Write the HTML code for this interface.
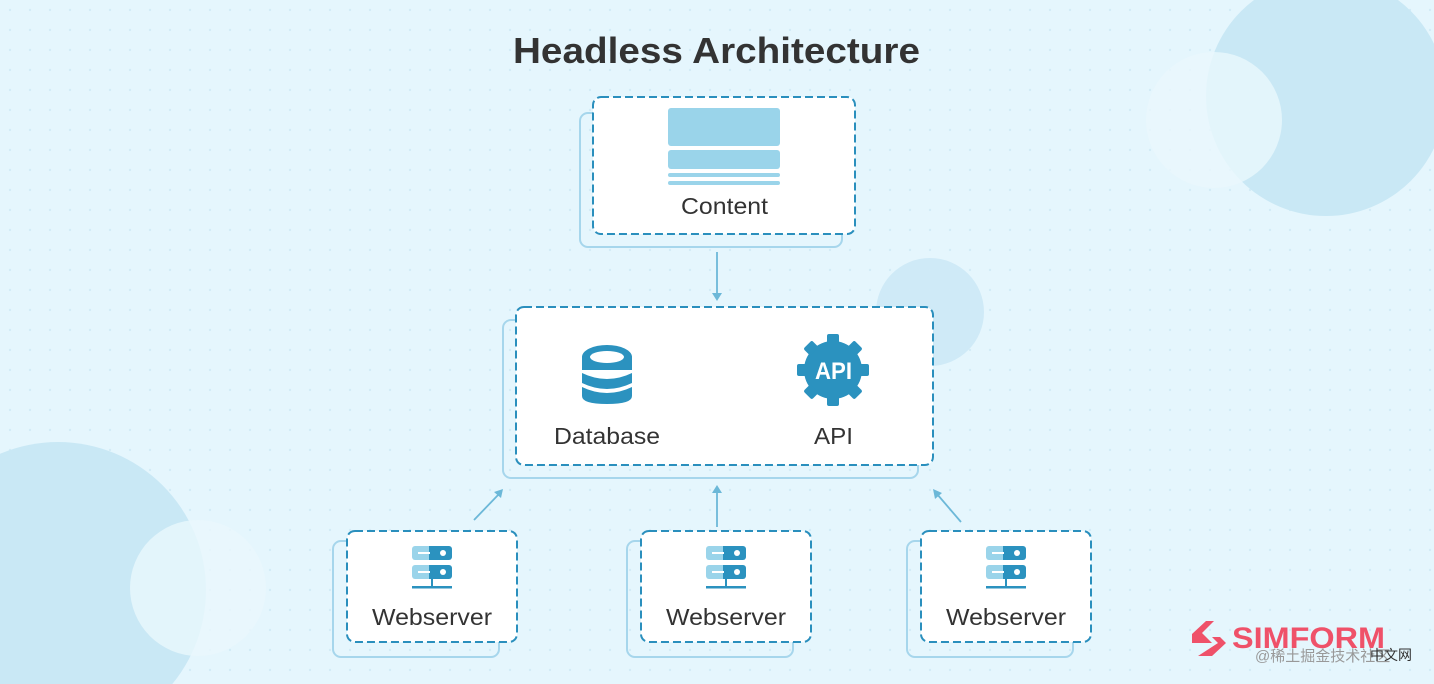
<!DOCTYPE html>
<html><head><style>html,body{margin:0;width:1434px;height:684px;overflow:hidden;background:#e5f6fd}svg{display:block}</style></head><body>
<svg width="1434" height="684" viewBox="0 0 1434 684" xmlns="http://www.w3.org/2000/svg" font-family="Liberation Sans, sans-serif">
<defs>
<pattern id="d" width="20" height="20" patternUnits="userSpaceOnUse"><circle cx="10" cy="10" r="1.2" fill="#d3ecf7"/></pattern>
</defs>
<rect width="1434" height="684" fill="#e5f6fd"/>
<rect width="1434" height="684" fill="url(#d)"/>
<circle cx="1326" cy="96" r="120" fill="#c9e8f5"/>
<circle cx="1214" cy="120" r="68" fill="#eaf8fd" opacity="0.8"/>
<circle cx="930" cy="312" r="54" fill="#cfeaf7"/>
<circle cx="58" cy="590" r="148" fill="#c9e8f5"/>
<circle cx="198" cy="588" r="68" fill="#eaf8fd" opacity="0.8"/>
<text x="513" y="63" font-size="36" font-weight="bold" fill="#333" textLength="407" lengthAdjust="spacingAndGlyphs">Headless Architecture</text>
<g fill="none" stroke="#a6d6ec" stroke-width="2">
<path d="M593 113 H588 a8 8 0 0 0 -8 8 V239 a8 8 0 0 0 8 8 H834 a8 8 0 0 0 8 -8 V234"/>
<path d="M516 320 H511 a8 8 0 0 0 -8 8 V470 a8 8 0 0 0 8 8 H910 a8 8 0 0 0 8 -8 V465"/>
<path d="M347 541 H341 a8 8 0 0 0 -8 8 V649 a8 8 0 0 0 8 8 H491 a8 8 0 0 0 8 -8 V642"/>
<path d="M641 541 H635 a8 8 0 0 0 -8 8 V649 a8 8 0 0 0 8 8 H785 a8 8 0 0 0 8 -8 V642"/>
<path d="M921 541 H915 a8 8 0 0 0 -8 8 V649 a8 8 0 0 0 8 8 H1065 a8 8 0 0 0 8 -8 V642"/>
</g>
<g fill="#fff" stroke="#2a8fbd" stroke-width="2" stroke-dasharray="8 4">
<rect x="593" y="97" width="262" height="137" rx="8"/>
<rect x="516" y="307" width="417" height="158" rx="8"/>
<rect x="347" y="531" width="170" height="111" rx="8"/>
<rect x="641" y="531" width="170" height="111" rx="8"/>
<rect x="921" y="531" width="170" height="111" rx="8"/>
</g>
<g fill="#9ad4ea">
<rect x="668" y="108" width="112" height="38" rx="3"/>
<rect x="668" y="150" width="112" height="19" rx="3"/>
<rect x="668" y="173" width="112" height="4" rx="2"/>
<rect x="668" y="181" width="112" height="4" rx="2"/>
</g>
<g font-size="23" fill="#333">
<text x="681" y="214" textLength="87" lengthAdjust="spacingAndGlyphs">Content</text>
<text x="554" y="444" textLength="106" lengthAdjust="spacingAndGlyphs">Database</text>
<text x="814" y="444" textLength="39" lengthAdjust="spacingAndGlyphs">API</text>
<text x="372" y="625" textLength="120" lengthAdjust="spacingAndGlyphs">Webserver</text>
<text x="666" y="625" textLength="120" lengthAdjust="spacingAndGlyphs">Webserver</text>
<text x="946" y="625" textLength="120" lengthAdjust="spacingAndGlyphs">Webserver</text>
</g>
<g stroke="#6cb8d8" stroke-width="1.8" fill="#6cb8d8">
<line x1="717" y1="252" x2="717" y2="296"/><path d="M712 293 L717 301 L722 293Z" stroke="none"/>
<line x1="474" y1="520" x2="499" y2="494"/><path d="M494 492 L503 489 L501 498Z" stroke="none"/>
<line x1="717" y1="527" x2="717" y2="490"/><path d="M712 493 L717 485 L722 493Z" stroke="none"/>
<line x1="961" y1="522" x2="937" y2="494"/><path d="M935 499 L933 489 L942 493Z" stroke="none"/>
</g>
<g fill="#2b92bf">
<ellipse cx="607" cy="357" rx="25" ry="12"/>
<rect x="582" y="357" width="50" height="13"/>
<path d="M582 373 q25 12 50 0 v10 q-25 12 -50 0z"/>
<path d="M582 387 q25 12 50 0 v9 q0 8 -25 8 q-25 0 -25 -8z"/>
</g>
<ellipse cx="607" cy="357" rx="17" ry="6" fill="#fff"/>
<g fill="#2b92bf" transform="translate(833,370)">
<circle r="29"/>
<g id="t"><rect x="-6" y="-36" width="12" height="10" rx="2"/></g>
<use href="#t" transform="rotate(45)"/><use href="#t" transform="rotate(90)"/><use href="#t" transform="rotate(135)"/><use href="#t" transform="rotate(180)"/><use href="#t" transform="rotate(225)"/><use href="#t" transform="rotate(270)"/><use href="#t" transform="rotate(315)"/>
</g>
<text x="815" y="379" font-size="24" font-weight="bold" fill="#fff" textLength="37" lengthAdjust="spacingAndGlyphs">API</text>
<g id="s">
<rect x="412" y="546" width="20" height="14" rx="3" fill="#9ad4ea"/><rect x="432" y="546" width="20" height="14" rx="3" fill="#2b92bf"/><rect x="429" y="546" width="6" height="14" fill="#2b92bf"/>
<rect x="412" y="565" width="20" height="14" rx="3" fill="#9ad4ea"/><rect x="432" y="565" width="20" height="14" rx="3" fill="#2b92bf"/><rect x="429" y="565" width="6" height="14" fill="#2b92bf"/>
<rect x="418" y="552" width="12" height="2" fill="#fff"/><circle cx="443" cy="553" r="3" fill="#fff"/>
<rect x="418" y="571" width="12" height="2" fill="#fff"/><circle cx="443" cy="572" r="3" fill="#fff"/>
<rect x="431" y="579" width="2" height="7" fill="#2b92bf"/><rect x="412" y="586" width="40" height="2.5" fill="#2b92bf"/>
</g>
<use href="#s" transform="translate(294,0)"/><use href="#s" transform="translate(574,0)"/>
<path d="M1192 634 l14 -13 h8 l-12 12 l10 10 l-20 0z M1212 656 l14 -13 l-6 -6 h-8 l6 6 l-20 13z" fill="#ef5169"/>
<text x="1232" y="648" font-size="30" font-weight="bold" fill="#ef5169" textLength="153" lengthAdjust="spacingAndGlyphs">SIMFORM</text>
<text x="1255" y="661" font-size="15" fill="#999" font-family="Liberation Sans, Noto Sans CJK SC, sans-serif">@稀土掘金技术社区</text>
<text x="1370" y="660" font-size="14" fill="#333" font-family="Liberation Sans, Noto Sans CJK SC, sans-serif">中文网</text>
</svg>
</body></html>
